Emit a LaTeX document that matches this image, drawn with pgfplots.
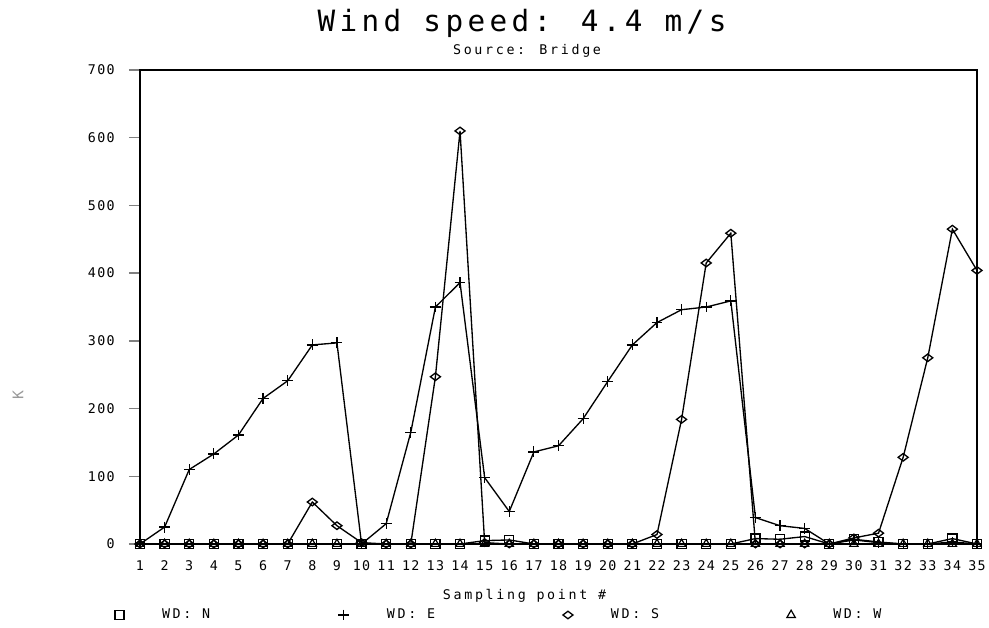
\documentclass[border=0pt]{standalone}
\usepackage{fontspec}
\usepackage{pgfplots}
\pgfplotsset{compat=1.18}
\setmainfont{DejaVu Sans Mono}
\newfontfamily\plotfont{DejaVu Sans Mono}[LetterSpace=20]
\newfontfamily\tickfont{DejaVu Sans Mono}[LetterSpace=10]
\newfontfamily\titlefont{DejaVu Sans Mono}[LetterSpace=15]

% values, sampling points 1..35
\pgfplotstableread{
x  N   E    S    W
1  0   0    0    0
2  0   25   0    0
3  0   110  0    0
4  0   133  0    0
5  0   161  0    0
6  0   215  0    0
7  0   241  0    0
8  0   294  62   0
9  0   297  27   0
10 0   0    2    0
11 0   30   0    0
12 0   165  0    0
13 0   350  247  0
14 0   386  610  0
15 5   98   2    0
16 6   48   0    0
17 0   136  0    0
18 0   145  0    0
19 0   185  0    0
20 0   240  0    0
21 0   294  0    0
22 0   327  14   0
23 0   346  184  0
24 0   350  415  0
25 0   359  459  0
26 8   39   0    0
27 7   27   0    0
28 11  23   0    0
29 0   0    0    0
30 7   6    9    0
31 3   2    16   0
32 0   0    128  0
33 0   0    275  0
34 8   3    465  0
35 0   0    404  0
}\wind

\begin{document}
\begin{tikzpicture}
\useasboundingbox (0,0) rectangle (741.75pt,471pt);
\begin{axis}[
  at={(105pt,63pt)}, anchor=south west,
  scale only axis, width=627.75pt, height=355.5pt,
  xmin=1, xmax=35, ymin=0, ymax=700,
  xtick={1,...,35}, ytick={0,100,...,700},
  ytick pos=left, xtick style={draw=none},
  tick align=outside, major tick length=8.25pt,
  axis line style={line width=1.1pt},
  ytick style={line width=1.1pt},
  tick label style={font=\tickfont\fontsize{10}{12}\selectfont},
  /pgf/number format/assume math mode=true,
  yticklabel style={inner sep=0pt, xshift=-10.5pt},
  xticklabel style={inner sep=0pt, yshift=-4.25pt},
  xlabel={Sampling point \#},
  xlabel style={font=\plotfont\fontsize{10}{12}\selectfont, at={(axis description cs:0.4594,-0.1097)}, anchor=center},
  ylabel={K},
  ylabel style={font=\plotfont\fontsize{11}{12}\selectfont, text=black!40, at={(axis description cs:-0.1458,0.314)}, anchor=center},
  clip=false,
  every axis plot/.append style={line width=1pt, black, mark options={solid, line width=0.9pt}},
  legend columns=4,
  legend style={at={(axis description cs:-0.0299,-0.1498)}, anchor=west, draw=none, fill=none,
    inner sep=0pt, outer sep=0pt,
    font=\plotfont\fontsize{10}{12}\selectfont,
    nodes={inner sep=0pt, text width=132pt},
    /tikz/every odd column/.append style={column sep=28.5pt},
    /tikz/every even column/.append style={column sep=0pt}},
  legend image code/.code={\draw[#1] plot[only marks] coordinates {(0pt,0pt)};},
]
\addplot[mark=square, mark size=3.4pt] table[x=x, y=N] {\wind};
\addlegendentry{\mbox{WD:\hspace{0.8em}N}}
\addplot[mark=+, mark size=4.1pt] table[x=x, y=E] {\wind};
\addlegendentry{\mbox{WD:\hspace{0.8em}E}}
\addplot[mark=diamond, mark size=3.75pt, mark options={rotate=90}] table[x=x, y=S] {\wind};
\addlegendentry{\mbox{WD:\hspace{0.8em}S}}
\addplot[mark=triangle, mark size=3.6pt] table[x=x, y=W] {\wind};
\addlegendentry{\mbox{WD:\hspace{0.8em}W}}
\node[font=\titlefont\fontsize{22}{26}\selectfont] at (axis description cs:0.4564,1.099) {Wind speed: 4.4 m/s};
\node[font=\plotfont\fontsize{10}{12}\selectfont] at (axis description cs:0.4624,1.0413) {Source: Bridge};
\end{axis}
\end{tikzpicture}
\end{document}
